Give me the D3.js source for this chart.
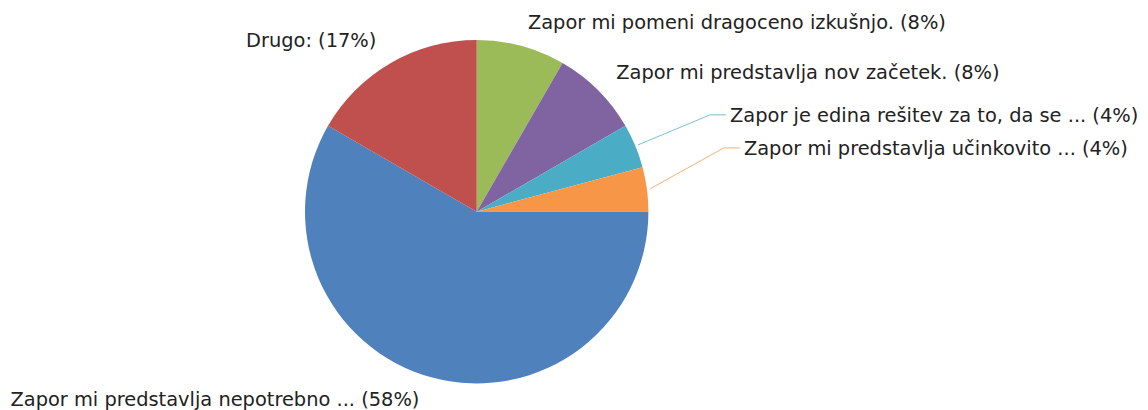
<!DOCTYPE html>
<html>
<head>
<meta charset="utf-8">
<script src="https://cdn.jsdelivr.net/npm/d3@7"></script>
<style>
  body { margin: 0; background: #fff; }
  svg text { font-family: "DejaVu Sans", Verdana, sans-serif; font-size: 19.4px; fill: #222; }
</style>
</head>
<body>
<div id="chart"></div>
<script>
// Data, in drawing order (clockwise from 12 o'clock)
const labels = [
    "Zapor mi pomeni dragoceno izkušnjo.",
    "Zapor mi predstavlja nov začetek.",
    "Zapor je edina rešitev za to, da se ...",
    "Zapor mi predstavlja učinkovito ...",
    "Zapor mi predstavlja nepotrebno ...",
    "Drugo:"
];
const counts = [2, 2, 1, 1, 14, 4];
const colors = ["#9BBB59", "#8064A2", "#4BACC6", "#F79646", "#4F81BD", "#C0504D"];

const width = 1148;
const height = 410;
const cx = 476.7, cy = 211.7;
const radius = 171.7;

const total = d3.sum(counts);
const slices = labels.map((label, i) => ({ label, value: counts[i], color: colors[i] }));

const svg = d3.select("#chart").append("svg")
    .attr("width", width)
    .attr("height", height);

const g = svg.append("g")
    .attr("transform", `translate(${cx}, ${cy})`);

const pie = d3.pie()
    .sort(null)
    .value(d => d.value);

const arc = d3.arc()
    .innerRadius(0)
    .outerRadius(radius);

const arcs = pie(slices);

g.selectAll("path")
    .data(arcs)
    .join("path")
    .attr("d", arc)
    .attr("fill", d => d.data.color);

// label placement: offset from the slice's outer edge point, plus optional leader line
const labelLayout = [
    { dx: 6, dy: -14, anchor: "start" },
    { dx: 16, dy: -9, anchor: "start" },
    { dx: 92, dy: -23, anchor: "start", leader: true },
    { dx: 94, dy: -34, anchor: "start", leader: true },
    { dx: -421, dy: 26, anchor: "start" },
    { dx: -13, dy: -13, anchor: "end" }
];

const edge = d3.arc().innerRadius(radius + 3).outerRadius(radius + 3);

arcs.forEach((d, i) => {
    const [ex, ey] = edge.centroid(d);
    const lay = labelLayout[i];
    const tx = ex + lay.dx, ty = ey + lay.dy;
    const pct = Math.round(d.data.value / total * 100);

    if (lay.leader) {
        const yLine = ty - 7;
        g.append("polyline")
            .attr("points", `${ex},${ey} ${tx - 20},${yLine} ${tx - 4},${yLine}`)
            .attr("fill", "none")
            .attr("stroke", d.data.color)
            .attr("stroke-opacity", 0.75)
            .attr("stroke-width", 1);
    }

    g.append("text")
        .attr("x", tx)
        .attr("y", ty)
        .attr("text-anchor", lay.anchor)
        .text(`${d.data.label} (${pct}%)`);
});
</script>
</body>
</html>
